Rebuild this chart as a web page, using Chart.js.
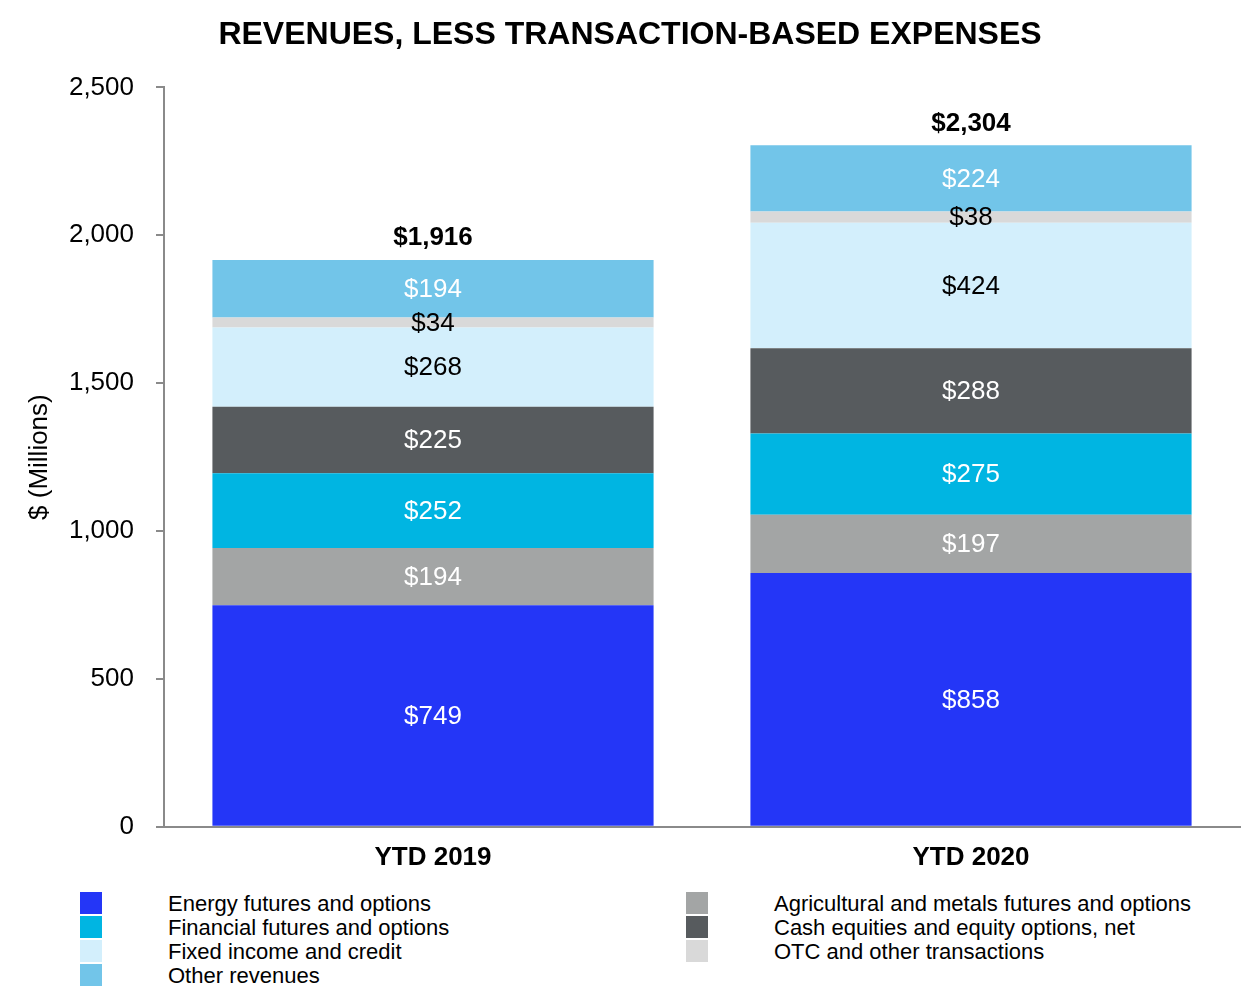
<!DOCTYPE html>
<html>
<head>
<meta charset="utf-8">
<script src="https://cdn.jsdelivr.net/npm/chart.js@4/dist/chart.umd.min.js"></script>
<style>
  body { margin: 0; background: #fff; font-family: "Liberation Sans", Arial, sans-serif; }
  #wrap { position: relative; width: 1260px; height: 1000px; }
  #legend { position: absolute; left: 80px; top: 892px; width: 1180px; }
  .item { position: absolute; height: 22px; font-size: 22px; line-height: 22px; color: #000; white-space: nowrap; }
  .box { position: absolute; left: 0; top: 0; width: 22px; height: 22px; }
  .lbl { position: absolute; left: 88px; top: 1px; }
</style>
</head>
<body>
<div id="wrap">
  <canvas id="chart" width="1260" height="880"></canvas>
  <div id="legend"></div>
</div>
<script>
const categories = ['YTD 2019', 'YTD 2020'];
const energy = [749, 858];
const agricultural = [194, 197];
const financial = [252, 275];
const cashEquities = [225, 288];
const fixedIncome = [268, 424];
const otc = [34, 38];
const other = [194, 224];
const totals = [1916, 2304];
const yTicks = [0, 500, 1000, 1500, 2000, 2500];

const series = [
  { label: 'Energy futures and options', data: energy, color: '#2436F7', text: '#fff' },
  { label: 'Agricultural and metals futures and options', data: agricultural, color: '#A3A5A5', text: '#fff' },
  { label: 'Financial futures and options', data: financial, color: '#00B5E2', text: '#fff' },
  { label: 'Cash equities and equity options, net', data: cashEquities, color: '#575B5E', text: '#fff' },
  { label: 'Fixed income and credit', data: fixedIncome, color: '#D3EFFC', text: '#000' },
  { label: 'OTC and other transactions', data: otc, color: '#D9D9D9', text: '#000' },
  { label: 'Other revenues', data: other, color: '#72C5E9', text: '#fff' }
];

const FONT = '"Liberation Sans", Arial, sans-serif';
const fmt = v => '$' + v.toLocaleString('en-US');

// segment values + totals on top
const labelPlugin = {
  id: 'segLabels',
  afterDatasetsDraw(chart) {
    const ctx = chart.ctx;
    ctx.save();
    ctx.textAlign = 'center';
    ctx.textBaseline = 'middle';
    ctx.font = '26px ' + FONT;
    chart.data.datasets.forEach((ds, i) => {
      chart.getDatasetMeta(i).data.forEach((bar, j) => {
        ctx.fillStyle = ds.textColor;
        ctx.fillText(fmt(ds.data[j]), bar.x, (bar.y + bar.base) / 2 + 1);
      });
    });
    const last = chart.getDatasetMeta(chart.data.datasets.length - 1).data;
    ctx.font = 'bold 26px ' + FONT;
    ctx.fillStyle = '#000';
    last.forEach((bar, j) => {
      ctx.fillText(fmt(totals[j]), bar.x, bar.y - 22);
    });
    ctx.restore();
  }
};

const chart = new Chart(document.getElementById('chart'), {
  type: 'bar',
  data: {
    labels: categories,
    datasets: series.map(s => ({
      label: s.label,
      data: s.data,
      backgroundColor: s.color,
      textColor: s.text,
      barPercentage: 0.82,
      categoryPercentage: 1.0,
      borderWidth: 0
    }))
  },
  options: {
    responsive: false,
    animation: false,
    layout: { padding: { left: 20, right: 20, top: 0, bottom: 0 } },
    plugins: {
      legend: { display: false },
      tooltip: { enabled: false },
      title: {
        display: true,
        text: 'REVENUES, LESS TRANSACTION-BASED EXPENSES',
        color: '#000',
        font: { family: FONT, size: 32, weight: 'bold' },
        padding: { top: 16, bottom: 33 }
      }
    },
    scales: {
      x: {
        stacked: true,
        grid: { display: false },
        border: { display: true, color: '#8a8a8a', width: 2 },
        ticks: {
          color: '#000',
          padding: 7,
          font: { family: FONT, size: 26, weight: 'bold' }
        }
      },
      y: {
        stacked: true,
        min: 0,
        max: 2500,
        afterBuildTicks(scale) { scale.ticks = yTicks.map(v => ({ value: v })); },
        afterFit(scale) { scale.width = 144; },
        grid: { drawOnChartArea: false, drawTicks: true, tickLength: 8, color: '#8a8a8a', lineWidth: 2 },
        border: { display: true, color: '#8a8a8a', width: 2 },
        ticks: {
          color: '#000',
          padding: 22,
          font: { family: FONT, size: 26 },
          callback: v => v.toLocaleString('en-US')
        },
        title: {
          display: true,
          text: '$ (Millions)',
          color: '#000',
          padding: { top: 4, bottom: 4 },
          font: { family: FONT, size: 26 }
        }
      }
    }
  },
  plugins: [labelPlugin]
});

// legend in two columns, read across rows
const legend = document.getElementById('legend');
chart.data.datasets.forEach((ds, i) => {
  const col = i % 2, row = Math.floor(i / 2);
  const el = document.createElement('div');
  el.className = 'item';
  el.style.left = (col * 606) + 'px';
  el.style.top = (row * 24) + 'px';
  el.innerHTML = '<span class="box" style="background:' + ds.backgroundColor + '"></span><span class="lbl">' + ds.label + '</span>';
  legend.appendChild(el);
});
</script>
</body>
</html>
